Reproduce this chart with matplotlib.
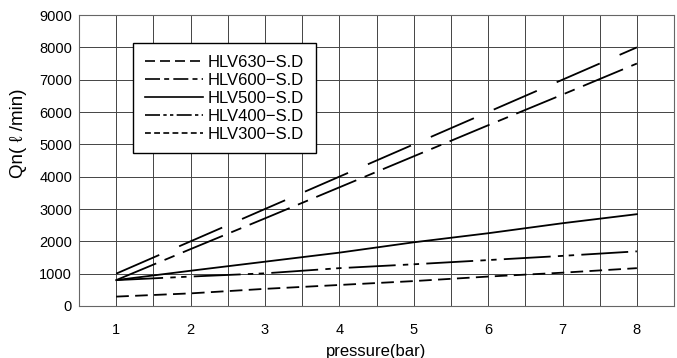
import numpy as np
import matplotlib
matplotlib.use('Agg')
import matplotlib.pyplot as plt
from matplotlib.lines import Line2D

# pressure (bar) and flow Qn (l/min)
pressure = [1, 2, 3, 4, 5, 6, 7, 8]
hlv630 = [1000, 2000, 3000, 4000, 5000, 6000, 7000, 8000]
hlv600 = [800, 1760, 2710, 3670, 4630, 5590, 6540, 7500]
hlv500 = [800, 1090, 1370, 1650, 1970, 2250, 2560, 2840]
hlv400 = [800, 910, 1010, 1170, 1290, 1420, 1550, 1690]
hlv300 = [290, 390, 530, 650, 770, 910, 1030, 1170]

labels = ['HLV630\u2212S.D', 'HLV600\u2212S.D', 'HLV500\u2212S.D', 'HLV400\u2212S.D', 'HLV300\u2212S.D']
series = [hlv630, hlv600, hlv500, hlv400, hlv300]

# dash patterns on the plot (long) and in the legend (short)
plot_styles = [(0, (26, 12)), (0, (24, 5, 6, 5)), '-', (0, (26, 4, 3, 3, 3, 4)), (0, (7, 3.5))]
legend_styles = [(0, (6, 3)), (0, (9, 2.5, 3, 2.5)), '-', (0, (9, 2, 2, 2, 2, 2)), (0, (3.5, 2))]

plt.rcParams['font.family'] = ['Liberation Sans', 'DejaVu Sans']

fig = plt.figure(figsize=(6.77, 3.58), dpi=100)
ax = fig.add_axes([0.1167, 0.1453, 0.879, 0.8127])

for ys, ls in zip(series, plot_styles):
    ax.plot(pressure, ys, color='black', linewidth=1.3, linestyle=ls)

ax.set_xlim(0.5, 8.5)
ax.set_ylim(0, 9000)
ax.set_xticks(range(1, 9))
ax.set_xticks(np.arange(0.5, 8.51, 0.5), minor=True)
ax.set_yticks(range(0, 9001, 1000))
ax.grid(True, which='both', color='#444444', linewidth=0.7)
ax.set_axisbelow(True)
ax.tick_params(which='both', length=0)
ax.tick_params(axis='x', pad=12, labelsize=10.5)
ax.tick_params(axis='y', pad=5, labelsize=10.5)
for sp in ax.spines.values():
    sp.set_color('#666666')
    sp.set_linewidth(0.8)

ax.set_xlabel('pressure(bar)', fontsize=12)
ax.xaxis.set_label_coords(0.5, -0.13)
ax.set_ylabel('Qn( \u2113 /min)', fontsize=13.5)
ax.yaxis.set_label_coords(-0.087, 0.595)

handles = [Line2D([], [], color='black', linewidth=1.2, linestyle=ls) for ls in legend_styles]
leg = ax.legend(handles, labels, loc='upper left', bbox_to_anchor=(0.0908, 0.904),
                borderaxespad=0, fancybox=False, framealpha=1, edgecolor='black',
                fontsize=12, handlelength=3.5, labelspacing=0.18, handletextpad=0.3,
                borderpad=0.7)
leg.get_frame().set_linewidth(1.0)

fig.savefig('out.png', dpi=100)
